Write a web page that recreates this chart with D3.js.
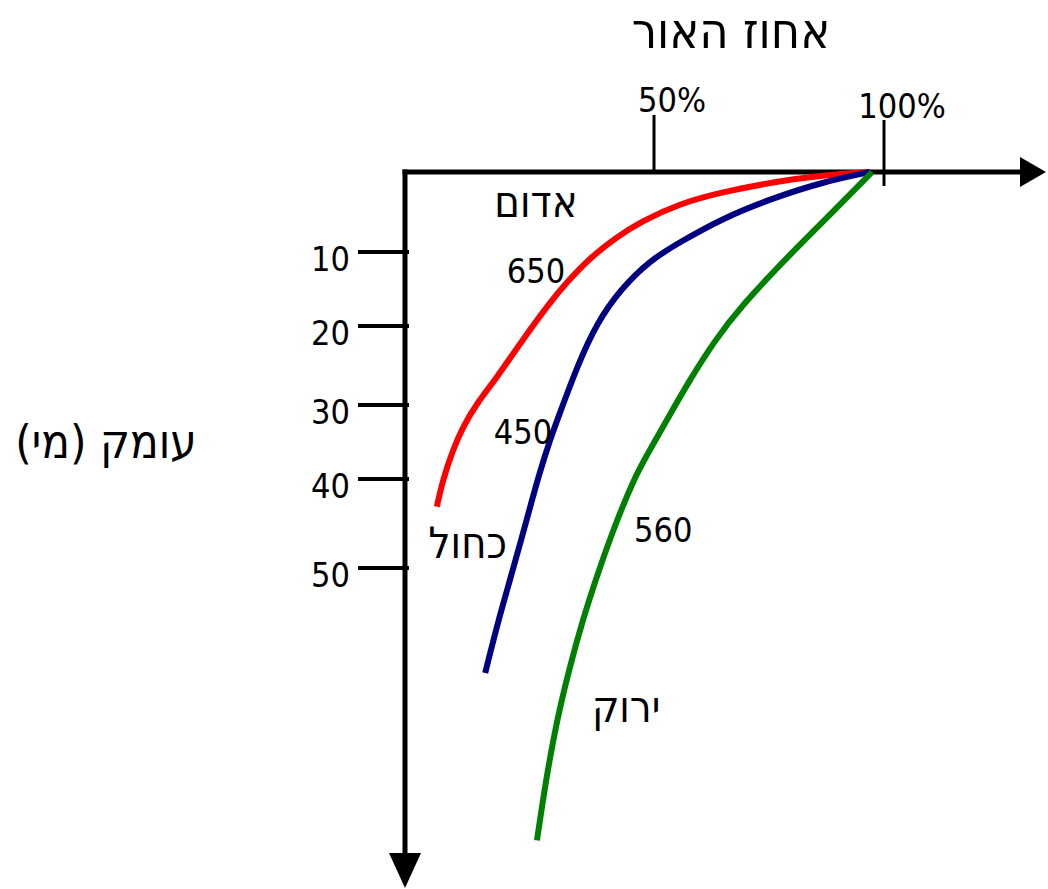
<!DOCTYPE html>
<html lang="he">
<head>
<meta charset="utf-8">
<script src="https://cdn.jsdelivr.net/npm/d3@7"></script>
<style>
  html, body { margin: 0; padding: 0; background: #fff; }
  svg { display: block; }
  text { font-family: "DejaVu Sans Condensed", "DejaVu Sans", sans-serif; fill: #000; }
</style>
</head>
<body>
<svg id="chart" width="1048" height="889"></svg>
<script>
// Light percentage (x) reaching each depth (y, metres) for three wavelengths
const redPercent   = [97.0, 86.7, 75.9, 65.0, 55.7, 47.2, 42.6, 37.1, 32.5, 29.1, 23.1, 18.5, 14.5, 11.6, 9.6, 7.6, 6.4];
const redDepth     = [0, 0.4, 1.25, 2.5, 3.9, 6.25, 8.1, 10.8, 14.1, 16.8, 22.2, 26.5, 29.7, 33.0, 36.1, 40.1, 43.1];

const bluePercent  = [97.0, 86.7, 75.9, 65.0, 55.7, 49.2, 43.2, 38.6, 34.5, 31.1, 29.1, 26.7, 25.5, 23.3, 21.1, 18.5, 16.1];
const blueDepth    = [0, 1.25, 3.25, 5.75, 8.75, 11.1, 15.1, 19.5, 25.2, 31.1, 34.7, 39.9, 42.4, 46.9, 51.3, 56.4, 61.8];

const greenPercent = [97.4, 89.3, 81.1, 68.7, 62.8, 57.8, 52.8, 48.8, 46.0, 41.8, 38.6, 35.7, 32.9, 30.5, 28.3, 26.5];
const greenDepth   = [0, 4.75, 9.4, 17.4, 22.2, 26.8, 32.0, 36.5, 39.9, 45.7, 50.8, 55.8, 61.5, 67.1, 73.8, 80.6];

const percentTicks = [50, 100];
const percentTickLabels = ["50%", "100%"];
const depthTicks = [10, 20, 30, 40, 50];

// Curve labels: wavelength (nm) and colour name, placed in data space
const curveLabels = [
  { text: "אדום", percent: 26.3, depth: 5.6,  heb: true },
  { text: "650",  percent: 26.3, depth: 14.2, heb: false },
  { text: "450",  percent: 23.7, depth: 35.3, heb: false },
  { text: "כחול", percent: 12.6, depth: 48.9, heb: true },
  { text: "560",  percent: 52.0, depth: 47.1, heb: false },
  { text: "ירוק", percent: 44.4, depth: 67.3, heb: true }
];

const xTitle = "אחוז האור";
const yTitle = "עומק (מי)";

const svg = d3.select("#chart");

// Hand-spaced axes: piecewise linear scales
const x = d3.scaleLinear().domain([0, 50, 100]).range([405, 654, 884]);
const y = d3.scaleLinear().domain([0, 10, 20, 30, 40, 50]).range([172, 252, 326, 405, 479, 568]);

const axisG = svg.append("g");

// horizontal axis with arrow
axisG.append("line")
  .attr("x1", x(0) - 2.5).attr("x2", 1022)
  .attr("y1", y(0)).attr("y2", y(0))
  .attr("stroke", "#000").attr("stroke-width", 5);
axisG.append("path")
  .attr("d", d3.line()([[1020, y(0) - 15], [1046, y(0)], [1020, y(0) + 15]]) + "Z")
  .attr("fill", "#000");

// vertical axis with arrow
axisG.append("line")
  .attr("x1", x(0)).attr("x2", x(0))
  .attr("y1", y(0) - 2.5).attr("y2", 856)
  .attr("stroke", "#000").attr("stroke-width", 5);
axisG.append("path")
  .attr("d", d3.line()([[x(0) - 16, 853], [x(0), 888], [x(0) + 16, 853]]) + "Z")
  .attr("fill", "#000");

// depth ticks and labels
const yTick = axisG.selectAll("g.ytick").data(depthTicks).join("g").attr("class", "ytick");
yTick.append("line")
  .attr("x1", 358).attr("x2", x(0) + 4)
  .attr("y1", d => y(d)).attr("y2", d => y(d))
  .attr("stroke", "#000").attr("stroke-width", 4);
yTick.append("text")
  .attr("x", 350).attr("y", d => y(d) + 19)
  .attr("text-anchor", "end")
  .attr("font-size", 34)
  .text(d => d);

// percent ticks and labels
const xTick = axisG.selectAll("g.xtick").data(percentTicks).join("g").attr("class", "xtick");
xTick.append("line")
  .attr("x1", d => x(d)).attr("x2", d => x(d))
  .attr("y1", (d, i) => i === 0 ? 115 : 120)
  .attr("y2", (d, i) => i === 0 ? y(0) : y(0) + 14)
  .attr("stroke", "#000").attr("stroke-width", 3);
xTick.append("text")
  .attr("x", d => x(d) + 18)
  .attr("y", (d, i) => i === 0 ? 112 : 118)
  .attr("text-anchor", "middle")
  .attr("font-size", 34)
  .text((d, i) => percentTickLabels[i]);

// attenuation curves
const series = [
  { pct: redPercent,   dep: redDepth,   color: "#ff0000" },
  { pct: bluePercent,  dep: blueDepth,  color: "#000080" },
  { pct: greenPercent, dep: greenDepth, color: "#008000" }
];
const line = d3.line()
  .x(d => x(d[0]))
  .y(d => y(d[1]))
  .curve(d3.curveBasis);

svg.append("g").selectAll("path")
  .data(series)
  .join("path")
  .attr("d", s => line(s.pct.map((p, i) => [p, s.dep[i]])))
  .attr("fill", "none")
  .attr("stroke", s => s.color)
  .attr("stroke-width", 6);

// curve annotations
svg.append("g").selectAll("text")
  .data(curveLabels)
  .join("text")
  .attr("x", d => x(d.percent))
  .attr("y", d => y(d.depth))
  .attr("text-anchor", "middle")
  .attr("font-size", d => d.heb ? 43 : 34)
  .text(d => d.text);

// axis titles
svg.append("text")
  .attr("x", 731).attr("y", 48)
  .attr("text-anchor", "middle")
  .attr("font-size", 50)
  .text(xTitle);

svg.append("text")
  .attr("x", 106).attr("y", 458)
  .attr("text-anchor", "middle")
  .attr("font-size", 47)
  .attr("direction", "rtl")
  .text(yTitle);
</script>
</body>
</html>
